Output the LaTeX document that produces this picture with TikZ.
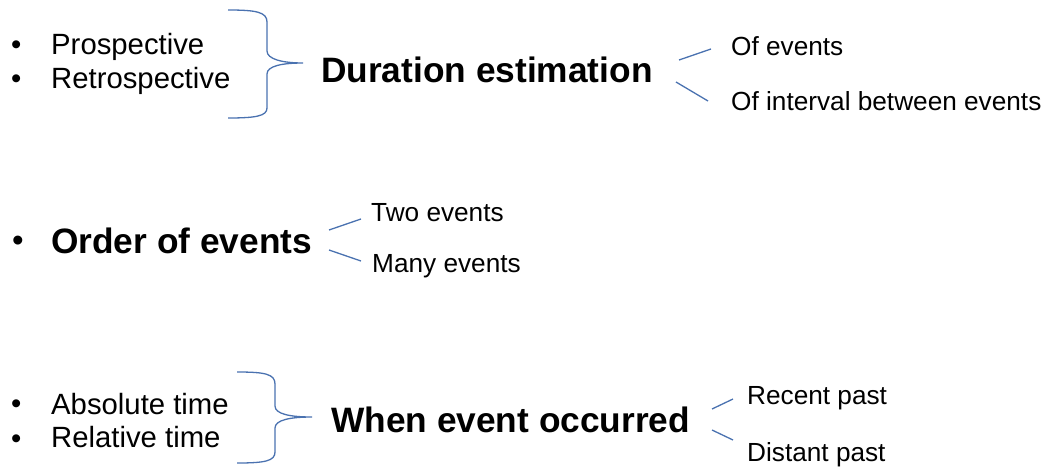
\documentclass[tikz,border=0pt]{standalone}
\usepackage{fontspec}
\setmainfont{Liberation Sans}
\definecolor{linkblue}{RGB}{74,114,176}
\tikzset{
  txt/.style={inner sep=0pt, anchor=base west, text=black},
  small/.style={txt, font=\fontsize{26.2}{30}\selectfont},
  item/.style={txt, font=\fontsize{29.3}{34}\selectfont},
  head/.style={txt, font=\fontsize{35.3}{40}\selectfont\bfseries},
  bul/.style={txt, font=\fontsize{29.3}{34}\selectfont},
  bulmid/.style={txt, font=\fontsize{33}{38}\selectfont},
  link/.style={draw=linkblue, line width=1.3pt},
  brace/.style={draw=linkblue, line width=1.3pt}
}
\begin{document}
\begin{tikzpicture}[x=1pt,y=-1pt]
\useasboundingbox (0,0) rectangle (1049,466);

% --- Duration estimation group ---
\node[bul] (b1) at (11,54) {•};
\node[item] (pro) at (51,54) {Prospective};
\node[bul] (b2) at (11,88) {•};
\node[item] (retro) at (51,88) {Retrospective};
\node[head] (dur) at (321,82) {Duration estimation};
\node[small] (ofev) at (731,55) {Of events};
\node[small] (ofint) at (731,110) {Of interval between events};

\path[brace] (228,10) .. controls (256,10) and (267,12) .. (267,22) -- (267,51)
  .. controls (267,59) and (282,63) .. (303,63)
  .. controls (282,63) and (267,66) .. (267,74) -- (267,108)
  .. controls (267,116) and (256,118) .. (228,118);

\coordinate (d1a) at (679,60); \coordinate (d1b) at (711,49);
\coordinate (d2a) at (676,82); \coordinate (d2b) at (708,101);
\draw[link] (d1a) -- (d1b);
\draw[link] (d2a) -- (d2b);

% --- Order of events ---
\node[bulmid] (b3) at (12,251) {•};
\node[head] (order) at (51,253) {Order of events};
\node[small] (two) at (371,221) {Two events};
\node[small] (many) at (372,272) {Many events};
\coordinate (o1a) at (329,230); \coordinate (o1b) at (361,219);
\coordinate (o2a) at (329,250); \coordinate (o2b) at (361,261);
\draw[link] (o1a) -- (o1b);
\draw[link] (o2a) -- (o2b);

% --- When event occurred ---
\node[bul] (b4) at (11,413) {•};
\node[item] (abs) at (51,414) {Absolute time};
\node[bul] (b5) at (11,448) {•};
\node[item] (rel) at (51,447) {Relative time};
\node[head] (when) at (331,432) {When event occurred};
\node[small] (recent) at (747,404) {Recent past};
\node[small] (distant) at (747,461) {Distant past};

\path[brace] (237,372) .. controls (265,372) and (275,374) .. (275,384) -- (275,406)
  .. controls (275,414) and (290,417) .. (312,417)
  .. controls (290,417) and (275,420) .. (275,428) -- (275,452)
  .. controls (275,461) and (265,463) .. (237,463);

\coordinate (w1a) at (712,409); \coordinate (w1b) at (733,399);
\coordinate (w2a) at (712,430); \coordinate (w2b) at (733,440);
\draw[link] (w1a) -- (w1b);
\draw[link] (w2a) -- (w2b);
\end{tikzpicture}
\end{document}
